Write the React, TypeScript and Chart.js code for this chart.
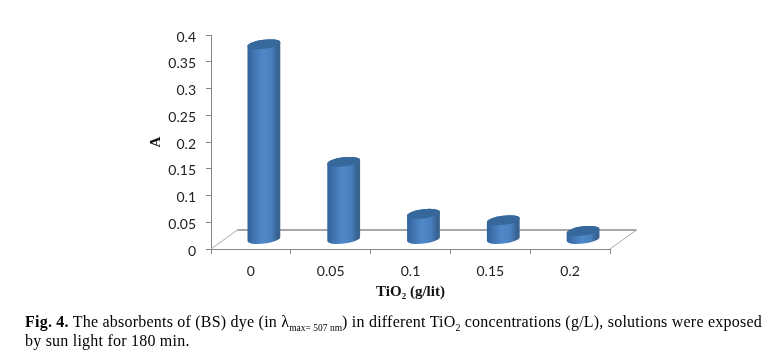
import React, { useEffect, useRef } from "react";
import { Chart, registerables } from "chart.js";

Chart.register(...registerables);

const categories = ["0", "0.05", "0.1", "0.15", "0.2"];
const absorbance = [0.365, 0.145, 0.048, 0.036, 0.016];
const yTicks = [0, 0.05, 0.1, 0.15, 0.2, 0.25, 0.3, 0.35, 0.4];
const xTitle = "TiO₂ (g/lit)";
const yTitle = "A";

const AXIS = "#868686";
const DEPTH_X = 26.5;
const DEPTH_Y = 19;

const floorPlugin = {
  id: "floor3d",
  beforeDatasetsDraw(chart: any) {
    const { ctx, chartArea: a } = chart;
    ctx.save();
    ctx.strokeStyle = "#a8a8a8";
    ctx.lineWidth = 1;
    ctx.beginPath();
    ctx.moveTo(a.left, a.bottom);
    ctx.lineTo(a.left + DEPTH_X, a.bottom - DEPTH_Y);
    ctx.moveTo(a.right, a.bottom);
    ctx.lineTo(a.right + DEPTH_X, a.bottom - DEPTH_Y);
    ctx.stroke();
    ctx.strokeStyle = "#8a8a8a";
    ctx.lineWidth = 1.6;
    ctx.beginPath();
    ctx.moveTo(a.left + DEPTH_X, a.bottom - DEPTH_Y);
    ctx.lineTo(a.right + DEPTH_X, a.bottom - DEPTH_Y);
    ctx.stroke();
    ctx.restore();
  },
};

const cylinderPlugin = {
  id: "cylinders",
  afterDatasetsDraw(chart: any) {
    const { ctx } = chart;
    const rot = (-7 * Math.PI) / 180;
    chart.getDatasetMeta(0).data.forEach((bar: any) => {
      const cx = bar.x + 13;
      const rx = bar.width / 2;
      const ry = 4.6;
      const top = bar.y - DEPTH_Y / 2;
      const bottom = bar.base - DEPTH_Y / 2;
      ctx.save();
      const g = ctx.createLinearGradient(cx - rx, 0, cx + rx, 0);
      g.addColorStop(0, "#2f6098");
      g.addColorStop(0.12, "#3a6ea9");
      g.addColorStop(0.45, "#5088c8");
      g.addColorStop(0.72, "#4a80bf");
      g.addColorStop(0.92, "#35618f");
      g.addColorStop(1, "#40688f");
      ctx.beginPath();
      ctx.ellipse(cx, bottom, rx, ry, rot, 0, Math.PI);
      ctx.ellipse(cx, top, rx, ry, rot, Math.PI, Math.PI * 2);
      ctx.closePath();
      ctx.fillStyle = g;
      ctx.fill();
      ctx.beginPath();
      ctx.ellipse(cx, top, rx, ry, rot, 0, Math.PI * 2);
      ctx.fillStyle = "#37689b";
      ctx.fill();
      ctx.restore();
    });
  },
};

export default function App() {
  const ref = useRef<HTMLCanvasElement>(null);
  useEffect(() => {
    document.body.style.margin = "0";
    const chart = new Chart(ref.current!, {
      type: "bar",
      data: {
        labels: categories,
        datasets: [
          {
            data: absorbance,
            backgroundColor: "rgba(0,0,0,0)",
            barPercentage: 0.414,
            categoryPercentage: 1,
          },
        ],
      },
      plugins: [floorPlugin, cylinderPlugin],
      options: {
        animation: false,
        responsive: false,
        layout: { padding: { left: 147, top: 35, right: 164, bottom: 53 } },
        plugins: { legend: { display: false }, tooltip: { enabled: false } },
        scales: {
          x: {
            afterFit: (s: any) => {
              s.height = 52;
            },
            grid: { drawOnChartArea: false, offset: true, tickLength: 5, color: AXIS },
            border: { color: AXIS },
            ticks: { color: "#222", padding: 9, font: { family: "Lato", size: 14 } },
            title: {
              display: true,
              text: xTitle,
              color: "#111",
              font: { family: "Liberation Serif", size: 15, weight: "bold" },
              padding: { top: 0, bottom: 0 },
            },
          },
          y: {
            min: 0,
            max: 0.4,
            afterFit: (s: any) => {
              s.width = 64;
            },
            afterBuildTicks: (s: any) => {
              s.ticks = yTicks.map((value) => ({ value }));
            },
            grid: { drawOnChartArea: false, tickLength: 5, color: AXIS },
            border: { color: AXIS },
            ticks: {
              color: "#222",
              padding: 10,
              labelOffset: 2,
              font: { family: "Lato", size: 14 },
              callback: (v: any) => String(v),
            },
            title: {
              display: true,
              text: yTitle,
              color: "#111",
              font: { family: "Liberation Serif", size: 15, weight: "bold" },
              padding: 0,
            },
          },
        },
      },
    });
    return () => chart.destroy();
  }, []);

  const line: React.CSSProperties = {
    position: "absolute",
    left: 25,
    whiteSpace: "nowrap",
    fontFamily: "Liberation Serif",
    fontSize: 16,
    letterSpacing: 0.22,
    lineHeight: "18px",
    color: "#000",
  };
  const sub: React.CSSProperties = { fontSize: 9.5, letterSpacing: 0, position: "relative", top: 4, lineHeight: 0 };
  return (
    <div style={{ position: "absolute", left: 0, top: 0, width: 774, height: 354, background: "#fff", overflow: "hidden" }}>
      <canvas ref={ref} width={774} height={354} style={{ display: "block" }} />
      <div style={{ ...line, top: 313 }}>
        <b>Fig. 4.</b> The absorbents of (BS) dye (in λ<span style={sub}>max= 507 nm</span>) in different TiO
        <span style={{ ...sub, fontSize: 10 }}>2</span> concentrations (g/L), solutions were exposed
      </div>
      <div style={{ ...line, top: 332 }}>by sun light for 180 min.</div>
    </div>
  );
}
